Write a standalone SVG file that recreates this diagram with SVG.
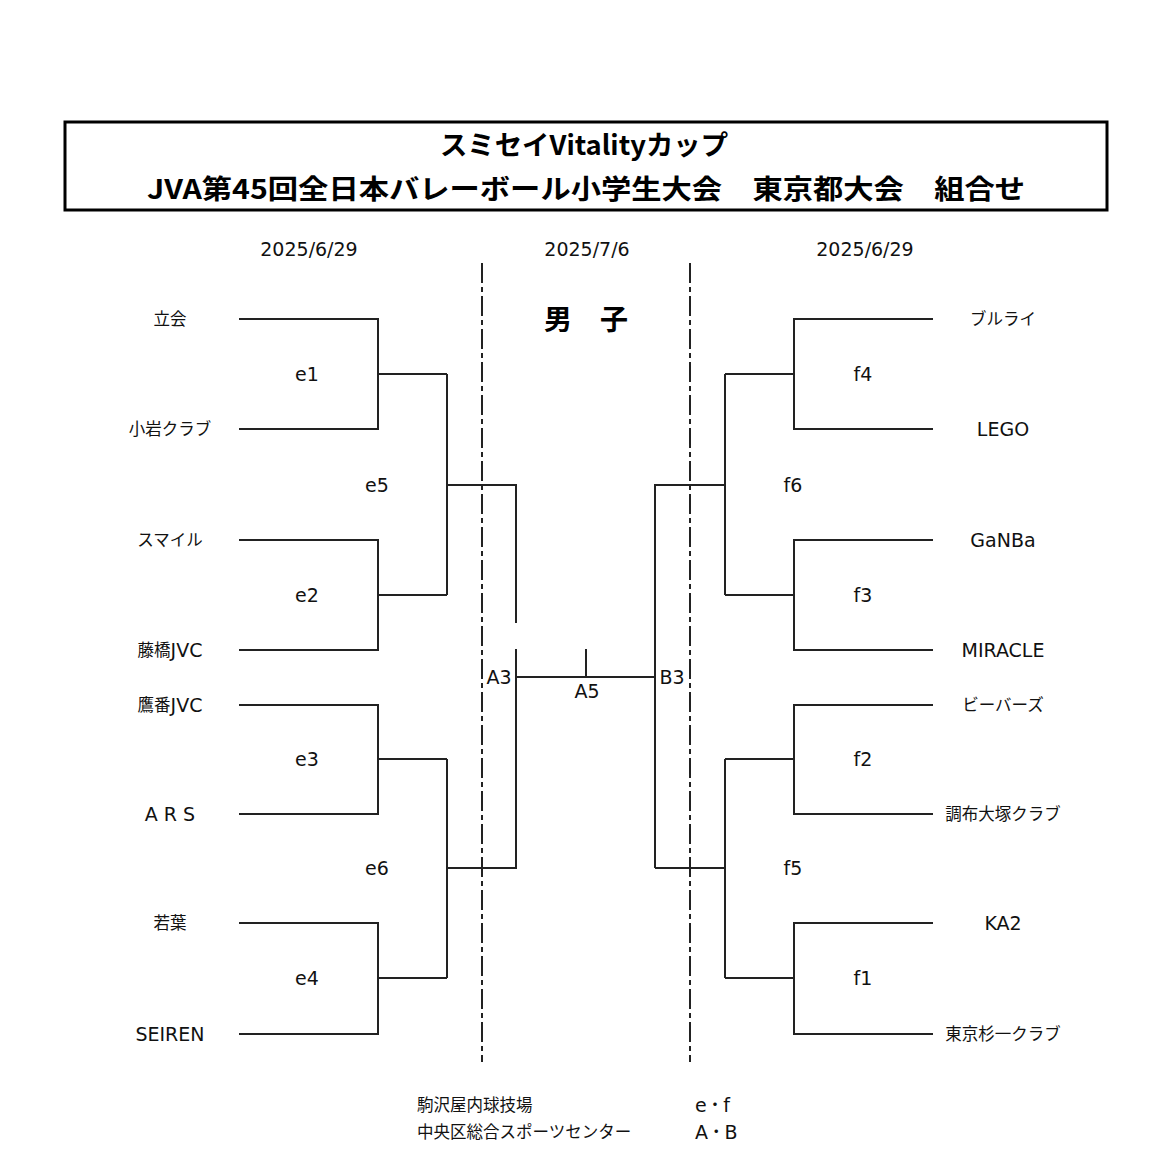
<svg xmlns="http://www.w3.org/2000/svg" width="1170" height="1162" viewBox="0 0 1170 1162">
<style>
.t{font-family:"DejaVu Sans","Noto Sans CJK JP",sans-serif;font-size:19px;fill:#111;dominant-baseline:central}
.j{font-size:16.5px}
.m{text-anchor:middle}
.ttl{font-family:"Noto Sans CJK JP",sans-serif;font-weight:bold;fill:#000;text-anchor:middle;dominant-baseline:central}
.ln{fill:none;stroke:#222;stroke-width:2}
.dd{fill:none;stroke:#222;stroke-width:2;stroke-dasharray:20 4 5 4}
</style>
<rect width="1170" height="1162" fill="#fff"/>
<g id="title">
<rect x="65" y="122" width="1042" height="88" fill="none" stroke="#000" stroke-width="3"/>
<text class="ttl" x="584" y="143" font-size="27" textLength="288" lengthAdjust="spacingAndGlyphs">スミセイVitalityカップ</text>
<text class="ttl" x="586" y="187" font-size="27" textLength="878" lengthAdjust="spacingAndGlyphs">JVA第45回全日本バレーボール小学生大会　東京都大会　組合せ</text>
</g>
<g id="dates">
<text class="t m" x="309" y="249">2025/6/29</text>
<text class="t m" x="587" y="249">2025/7/6</text>
<text class="t m" x="865" y="249">2025/6/29</text>
</g>
<text class="ttl" x="586" y="318" font-size="28">男　子</text>
<g id="connectors">
<path class="dd" d="M482 263V1062M690 263V1062"/>
<path class="ln" d="M239 319H378V429H239M378 374H447M239 540H378V650H239M378 595H447M447 374V595M447 485H516V623"/>
<path class="ln" d="M239 705H378V814H239M378 759H447M239 923H378V1034H239M378 978H447M447 759V978M447 868H516V649"/>
<path class="ln" d="M516 677H655M586 649V677"/>
<path class="ln" d="M933 319H794V429H933M794 374H725M933 540H794V650H933M794 595H725M725 374V595M725 485H655V868"/>
<path class="ln" d="M933 705H794V814H933M794 759H725M933 923H794V1034H933M794 978H725M725 759V978M725 868H655"/>
</g>
<g id="left-teams">
<text class="t j m" x="170" y="319">立会</text>
<text class="t j m" x="170" y="429">小岩クラブ</text>
<text class="t j m" x="170" y="540">スマイル</text>
<text class="t m" x="170" y="650"><tspan class="j">藤橋</tspan>JVC</text>
<text class="t m" x="170" y="705"><tspan class="j">鷹番</tspan>JVC</text>
<text class="t m" x="170" y="814">A R S</text>
<text class="t j m" x="170" y="923">若葉</text>
<text class="t m" x="170" y="1034">SEIREN</text>
</g>
<g id="right-teams">
<text class="t j m" x="1003" y="319">ブルライ</text>
<text class="t m" x="1003" y="429">LEGO</text>
<text class="t m" x="1003" y="540">GaNBa</text>
<text class="t m" x="1003" y="650">MIRACLE</text>
<text class="t j m" x="1003" y="705">ビーバーズ</text>
<text class="t j m" x="1003" y="814">調布大塚クラブ</text>
<text class="t m" x="1003" y="923">KA2</text>
<text class="t j m" x="1003" y="1034">東京杉一クラブ</text>
</g>
<g id="matches">
<text class="t m" x="307" y="374">e1</text>
<text class="t m" x="307" y="595">e2</text>
<text class="t m" x="307" y="759">e3</text>
<text class="t m" x="307" y="978">e4</text>
<text class="t m" x="377" y="485">e5</text>
<text class="t m" x="377" y="868">e6</text>
<text class="t m" x="863" y="374">f4</text>
<text class="t m" x="863" y="595">f3</text>
<text class="t m" x="863" y="759">f2</text>
<text class="t m" x="863" y="978">f1</text>
<text class="t m" x="793" y="485">f6</text>
<text class="t m" x="793" y="868">f5</text>
<text class="t m" x="499" y="677">A3</text>
<text class="t m" x="587" y="691">A5</text>
<text class="t m" x="672" y="677">B3</text>
</g>
<g id="legend">
<text class="t j" x="417" y="1105">駒沢屋内球技場</text>
<text class="t j" x="417" y="1132">中央区総合スポーツセンター</text>
<text class="t" x="695" y="1105">e<tspan class="j">・</tspan>f</text>
<text class="t" x="695" y="1132">A<tspan class="j">・</tspan>B</text>
</g>
</svg>
